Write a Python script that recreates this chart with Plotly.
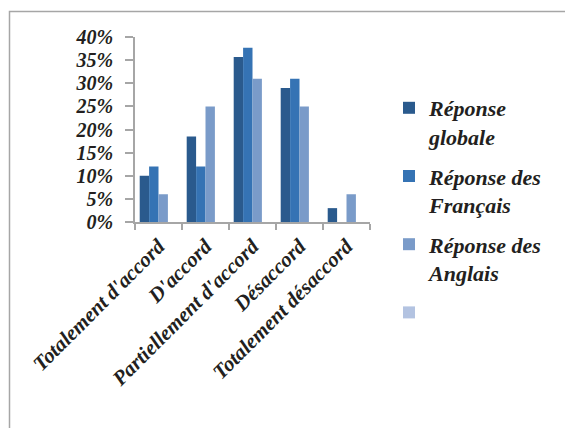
import plotly.graph_objects as go

categories = ["Totalement d'accord", "D'accord", "Partiellement d'accord", "Désaccord", "Totalement désaccord"]
series_names = ["Réponse<br>globale", "Réponse des<br>Français", "Réponse des<br>Anglais", ""]
reponse_globale = [10, 18.5, 35.7, 29, 3]
reponse_francais = [12, 12, 37.7, 31, 0]
reponse_anglais = [6, 25, 31, 25, 6]
serie_vide = [0, 0, 0, 0, 0]
y_ticks = [0, 5, 10, 15, 20, 25, 30, 35, 40]
y_tick_labels = ["0%", "5%", "10%", "15%", "20%", "25%", "30%", "35%", "40%"]

colors = ["#2A5A8D", "#3573B4", "#7A9BC9", "#B3C3E1"]
values = [reponse_globale, reponse_francais, reponse_anglais, serie_vide]

font_family = "Liberation Serif"
fig = go.Figure()
for i, (name, vals) in enumerate(zip(series_names, values)):
    fig.add_trace(go.Bar(
        x=categories, y=vals, name=name,
        marker=dict(color=colors[i], line=dict(width=0)),
        legendgroup=f"g{i}",
    ))

OFF = 8  # page body margin
W, H = 565, 420
L, R, T, B = 135 - OFF, 370 - OFF, 37 - OFF, 222 - OFF
def px_x(p):
    return (p - OFF - L) / (R - L)
def px_y(p):
    return (B - (p - OFF)) / (B - T)

fig.update_layout(
    width=W, height=H,
    margin=dict(l=L, r=W - R, t=T, b=H - B, autoexpand=False),
    paper_bgcolor="white", plot_bgcolor="white",
    barmode="group", bargap=0.2, bargroupgap=0,
    font=dict(family=font_family, color="#231F20"),
    showlegend=True,
    legend=dict(
        x=px_x(389), y=px_y(87), xanchor="left", yanchor="top", valign="top",
        font=dict(family=font_family, size=22, weight="bold", style="italic", color="#231F20"),
        tracegroupgap=8, bgcolor="rgba(0,0,0,0)", maxheight=400,
    ),
    shapes=[dict(type="rect", xref="paper", yref="paper",
                 x0=px_x(9.5), x1=px_x(600), y0=px_y(460), y1=px_y(11.5),
                 line=dict(color="#A6A6A6", width=1.5), layer="below")],
)
fig.update_xaxes(
    showline=True, linecolor="#A6A6A6", linewidth=1.5,
    ticks="outside", tickson="boundaries", ticklen=6, tickcolor="#A6A6A6", tickwidth=1.5,
    tickangle=-45, automargin=False, ticklabelstandoff=2,
    tickfont=dict(family=font_family, size=21, weight="bold", style="italic", color="#231F20"),
    showgrid=False, fixedrange=True,
)
fig.update_yaxes(
    range=[0, 40], tickmode="array", tickvals=y_ticks, ticktext=y_tick_labels,
    showline=True, linecolor="#A6A6A6", linewidth=1.5, automargin=False,
    ticks="outside", ticklen=8, tickcolor="#A6A6A6", tickwidth=1.5, ticklabelstandoff=8,
    tickfont=dict(family=font_family, size=20, weight="bold", style="italic", color="#231F20"),
    showgrid=False, zeroline=False,
)
fig.write_html("out.html")
